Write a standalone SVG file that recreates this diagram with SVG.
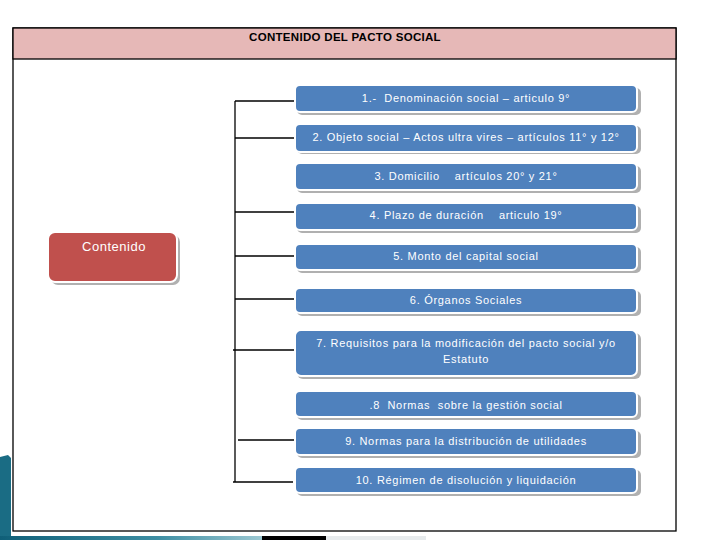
<svg xmlns="http://www.w3.org/2000/svg" width="720" height="540" viewBox="0 0 720 540">
<defs>
<style>
.box{fill:#4f81bd;stroke:#ffffff;stroke-width:2}
.shadow{fill:#b0b0b0}
.t{font-family:"Liberation Sans",Arial,sans-serif;font-size:11px;fill:#ffffff;text-anchor:middle;letter-spacing:0.7px;white-space:pre}
.conn{stroke:#000000;stroke-width:1.3;fill:none}
</style>
<linearGradient id="teal" x1="0" y1="0" x2="1" y2="0">
<stop offset="0" stop-color="#0f5f78"/>
<stop offset="0.6" stop-color="#3e8ea3"/>
<stop offset="1" stop-color="#9cc8d2"/>
</linearGradient>
</defs>
<rect width="720" height="540" fill="#ffffff"/>
<!-- slide background remnants -->
<path d="M0 457 L8 455 L11 458 L11 540 L0 540 Z" fill="#1a6c84"/>
<rect x="0" y="536" width="262" height="4" fill="url(#teal)"/>
<rect x="262" y="536" width="64" height="4" fill="#000000"/>
<rect x="326" y="536" width="100" height="4" fill="#e6eaec"/>
<!-- frame -->
<g id="frame">
<rect x="13" y="28" width="663" height="503" fill="#ffffff" stroke="#000000" stroke-width="1.3"/>
<rect x="13" y="28" width="663" height="31" fill="#e6b8b7" stroke="#000000" stroke-width="1.3"/>
<text x="345" y="41" font-family="'Liberation Sans',Arial,sans-serif" font-size="11.5" font-weight="bold" fill="#000000" text-anchor="middle" letter-spacing="0.3">CONTENIDO DEL PACTO SOCIAL</text>
</g>
<!-- connectors -->
<g id="connectors">
<line class="conn" x1="235" y1="101" x2="235" y2="482"/>
<line class="conn" x1="235" y1="101" x2="295" y2="101"/>
<line class="conn" x1="235" y1="138" x2="295" y2="138"/>
<line class="conn" x1="235" y1="212" x2="295" y2="212"/>
<line class="conn" x1="235" y1="256" x2="295" y2="256"/>
<line class="conn" x1="235" y1="299" x2="295" y2="299"/>
<line class="conn" x1="233" y1="350" x2="295" y2="350"/>
<line class="conn" x1="238" y1="440" x2="295" y2="440"/>
<line class="conn" x1="233" y1="482" x2="293" y2="482"/>
</g>
<!-- central node -->
<g id="contenido">
<rect x="51" y="235" width="129" height="50" rx="7" class="shadow"/>
<rect x="48" y="232" width="129" height="50" rx="7" fill="#c0504d" stroke="#ffffff" stroke-width="2"/>
<text x="114" y="251" font-family="'Liberation Sans',Arial,sans-serif" font-size="13" fill="#ffffff" text-anchor="middle" letter-spacing="0.5">Contenido</text>
</g>
<g id="n1">
<rect x="297" y="88" width="344" height="27" rx="5" class="shadow"/>
<rect x="295" y="85" width="342" height="27" rx="5" class="box"/>
<text x="466" y="102" class="t">1.-  Denominación social – articulo 9°</text>
</g>
<g id="n2">
<rect x="297" y="126" width="344" height="28" rx="5" class="shadow"/>
<rect x="295" y="124" width="342" height="28" rx="5" class="box"/>
<text x="466" y="141" class="t">2. Objeto social – Actos ultra vires – artículos 11° y 12°</text>
</g>
<g id="n3">
<rect x="297" y="166" width="344" height="27" rx="5" class="shadow"/>
<rect x="295" y="163" width="342" height="27" rx="5" class="box"/>
<text x="466" y="180" class="t">3. Domicilio    artículos 20° y 21°</text>
</g>
<g id="n4">
<rect x="297" y="206" width="344" height="27" rx="5" class="shadow"/>
<rect x="295" y="203" width="342" height="27" rx="5" class="box"/>
<text x="466" y="219" class="t">4. Plazo de duración    articulo 19°</text>
</g>
<g id="n5">
<rect x="297" y="247" width="344" height="26" rx="5" class="shadow"/>
<rect x="295" y="244" width="342" height="26" rx="5" class="box"/>
<text x="466" y="260" class="t">5. Monto del capital social</text>
</g>
<g id="n6">
<rect x="297" y="291" width="344" height="25" rx="5" class="shadow"/>
<rect x="295" y="288" width="342" height="25" rx="5" class="box"/>
<text x="466" y="304" class="t">6. Órganos Sociales</text>
</g>
<g id="n7">
<rect x="297" y="333" width="344" height="46" rx="6" class="shadow"/>
<rect x="295" y="330" width="342" height="46" rx="6" class="box"/>
<text x="466" y="347" class="t">7. Requisitos para la modificación del pacto social y/o</text>
<text x="466" y="363" class="t">Estatuto</text>
</g>
<g id="n8">
<rect x="297" y="394" width="344" height="26" rx="5" class="shadow"/>
<rect x="295" y="391" width="342" height="26" rx="5" class="box"/>
<text x="466" y="409" class="t">.8  Normas  sobre la gestión social</text>
</g>
<g id="n9">
<rect x="297" y="431" width="344" height="27" rx="5" class="shadow"/>
<rect x="295" y="428" width="342" height="27" rx="5" class="box"/>
<text x="466" y="445" class="t">9. Normas para la distribución de utilidades</text>
</g>
<g id="n10">
<rect x="297" y="470" width="344" height="26" rx="5" class="shadow"/>
<rect x="295" y="467" width="342" height="26" rx="5" class="box"/>
<text x="466" y="484" class="t">10. Régimen de disolución y liquidación</text>
</g>
</svg>
